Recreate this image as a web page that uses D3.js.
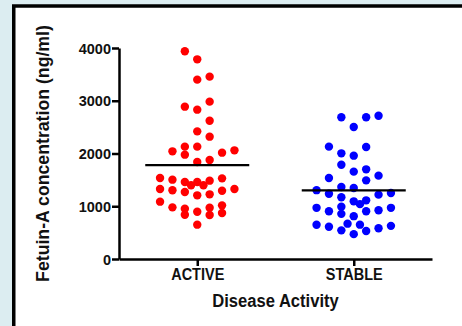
<!DOCTYPE html>
<html>
<head>
<meta charset="utf-8">
<script src="https://cdn.jsdelivr.net/npm/d3@7"></script>
<style>
  html, body { margin: 0; padding: 0; background: #dcedf1; }
  svg { display: block; }
  text { font-family: "Liberation Sans", Arial, sans-serif; font-weight: bold; fill: #111; }
</style>
</head>
<body>
<div id="chart"></div>
<script>
// groups and y ticks
const groups = ["ACTIVE", "STABLE"];
const yTicks = [0, 1000, 2000, 3000, 4000];

// Fetuin-A values (ng/ml)
const activeValues = [3937, 3785, 3400, 3457, 2888, 2831, 2983, 2622, 2420, 2319,
  2041, 2130, 1978, 2130, 2016, 2060, 1839, 1877, 1536, 1504,
  1460, 1460, 1485, 1529, 1397, 1397, 1327, 1302, 1270, 1207,
  1226, 1295, 1327, 1087, 979, 954, 840, 897, 973, 834,
  1017, 872, 651];
// column offset of each dot in the scatter (in dot-widths)
const activeCols = [-1, 0, 0, 1, -1, 0, 1, 1, 0, 1,
  -2, -1, -1, 0, 2, 3, 0, 1, -3, -2,
  -1, 0, 1, 2, -0.5, 0.5, -3, -2, -1, 0,
  1, 2, 3, -3, -2, -1, -1, 0, 1, 1,
  2, 2, 0];

const stableValues = [2686, 2686, 2717, 2502, 2130, 2123, 2003, 1959, 1788, 1656,
  1700, 1580, 1536, 1491, 1305, 1236, 1365, 1346, 1220, 1251,
  1172, 1093, 1112, 1040, 970, 904, 990, 856, 812, 904,
  923, 970, 648, 610, 543, 670, 651, 471, 531, 584, 628];
const stableCols = [-1, 1, 2, 0, -2, 1, -1, 0, -1, 0,
  1, 2, -2, 1, -3, -2, -1, 0, 2, 3,
  -1, 0, 1, 0.5, -3, -2, -1, -1, 0, 1,
  2, 3, -3, -2, -1, -0.5, 0.5, 0, 1, 2, 3];

const colors = {ACTIVE: "#ff0000", STABLE: "#0000ff"};

const width = 462, height = 326;
const margin = {top: 48, right: 30, bottom: 67, left: 119};

const svg = d3.select("#chart").append("svg")
    .attr("width", width)
    .attr("height", height);

// white panel with heavy black frame (runs off the right and bottom)
svg.append("rect")
    .attr("x", 13.75)
    .attr("y", 6)
    .attr("width", 500)
    .attr("height", 400)
    .attr("fill", "#fff")
    .attr("stroke", "#000")
    .attr("stroke-width", 3.5);

let x = d3.scalePoint()
    .domain(groups)
    .range([margin.left, width - margin.right])
    .padding(0.5);

let y = d3.scaleLinear()
    .domain([0, 4000])
    .range([height - margin.bottom, margin.top]);

const dotStep = 12.4;

// axes
let yAxis = svg.append("g")
    .attr("transform", "translate(" + margin.left + ",0)")
    .call(d3.axisLeft(y).tickValues(yTicks).tickFormat(d3.format("d"))
        .tickSize(7).tickPadding(1).tickSizeOuter(0));

let xAxis = svg.append("g")
    .attr("transform", "translate(0," + (height - margin.bottom) + ")")
    .call(d3.axisBottom(x).tickSize(7).tickPadding(3).tickSizeOuter(0));

[yAxis, xAxis].forEach(a => {
    a.attr("font-size", null).attr("font-family", null);
    a.select(".domain").attr("stroke", "#000").attr("stroke-width", 2.5);
    a.selectAll(".tick line").attr("stroke", "#000").attr("stroke-width", 2.5);
    a.selectAll(".tick text").attr("fill", "#111");
});
yAxis.selectAll(".tick text").style("font-size", "14.5px").attr("dy", "0.36em");
// category labels look a bit stretched vertically in the original
xAxis.selectAll(".tick text")
    .style("font-size", "14.5px")
    .attr("y", 0).attr("dy", 0)
    .attr("transform", "translate(0,20.8) scale(1,1.12)");

// dots
let points = [];
activeValues.forEach((v, i) => points.push({group: "ACTIVE", value: v, col: activeCols[i]}));
stableValues.forEach((v, i) => points.push({group: "STABLE", value: v, col: stableCols[i]}));

svg.append("g").selectAll("circle")
    .data(points)
    .enter().append("circle")
    .attr("cx", d => x(d.group) + d.col * dotStep)
    .attr("cy", d => y(d.value))
    .attr("r", 4.2)
    .attr("fill", d => colors[d.group]);

// mean lines
let means = [
    {group: "ACTIVE", value: d3.mean(activeValues)},
    {group: "STABLE", value: d3.mean(stableValues)}
];

svg.append("g").selectAll("line")
    .data(means)
    .enter().append("line")
    .attr("x1", d => x(d.group) - 52)
    .attr("x2", d => x(d.group) + 52)
    .attr("y1", d => y(d.value))
    .attr("y2", d => y(d.value))
    .attr("stroke", "#000")
    .attr("stroke-width", 2.2);

// axis titles
svg.append("text")
    .attr("transform", "translate(275.5,306.7) scale(1,1.12)")
    .attr("text-anchor", "middle")
    .style("font-size", "16.6px")
    .text("Disease Activity");

svg.append("text")
    .attr("transform", "translate(49,153.5) rotate(-90)")
    .attr("text-anchor", "middle")
    .style("font-size", "17.7px")
    .text("Fetuin-A concentration (ng/ml)");
</script>
</body>
</html>
